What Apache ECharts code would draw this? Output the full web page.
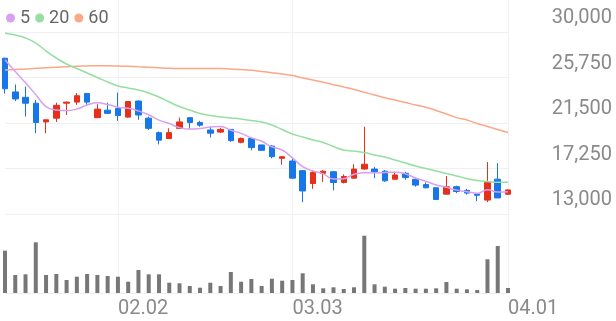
<!DOCTYPE html>
<html><head><meta charset="utf-8">
<script src="https://cdn.jsdelivr.net/npm/echarts@6/dist/echarts.min.js"></script>
<style>html,body{margin:0;padding:0;background:#fff}#c{width:616px;height:321px}</style>
</head><body><div id="c"></div>
<script>
const dates = ['01.16','01.19','01.20','01.21','01.22','01.23','01.26','01.27','01.28','01.29','01.30',
  '02.02','02.03','02.04','02.05','02.06','02.09','02.10','02.11','02.12','02.13','02.19','02.20',
  '02.23','02.24','02.25','02.26','02.27','03.03','03.04','03.05','03.06','03.09','03.10','03.11',
  '03.12','03.13','03.16','03.17','03.18','03.19','03.20','03.23','03.24','03.25','03.26','03.27',
  '03.30','03.31','04.01'];
const opens  = [27550,24400,23900,23350,21600,21950,23350,23450,24250,22000,22700,22850,22050,23550,21950,20600,20050,21000,22000,21550,20850,20650,20900,19700,20050,19450,19350,18200,17950,17050,15850,16800,16950,15950,16350,17200,17200,17000,16250,16800,16250,15750,15450,14850,15550,15200,14850,14300,16250,14850];
const closes = [24700,23750,23350,21550,21800,23150,23450,24050,23450,22800,22400,22200,23500,22250,21000,19900,20600,21600,21550,21300,20550,20900,19850,20050,19200,18950,18350,18350,16350,15150,16900,17000,15950,16500,17200,17650,16950,16100,16650,16400,15700,15450,14350,15550,15100,14950,14750,15950,14500,15250];
const lows   = [24250,23550,22100,20550,20550,21600,22250,23200,23200,21950,22350,21700,22000,21800,20850,19500,20000,20950,20950,21150,20150,20550,19750,19600,18950,18950,18200,17600,16300,14100,15350,16000,15200,15850,16350,17150,16350,16000,16200,16200,15550,15400,14350,14850,14950,14800,14200,14100,14500,14800];
const highs  = [27600,25100,24900,23650,21800,23400,23500,24300,24250,23250,23400,24350,23550,23600,22100,20700,21000,22000,22000,21700,21150,21050,20950,20150,20150,19450,19450,18400,18200,17100,17100,17100,17000,16700,17650,21150,17400,17100,16950,16950,16350,15950,15500,16550,15650,15350,14900,17850,17750,15300];
const volumes = [423000,180000,187000,507000,180000,190000,130000,163000,190000,180000,170000,163000,113000,230000,187000,187000,103000,97000,70000,53000,103000,70000,210000,113000,140000,70000,143000,123000,130000,197000,87000,47000,57000,40000,57000,573000,87000,63000,43000,50000,43000,43000,47000,110000,43000,37000,30000,337000,470000,50000];
const ma5  = [27400,26300,25250,24150,23030,22720,22660,22800,23180,23380,23230,22980,22870,22630,22270,21770,21450,21070,20930,20990,21120,21180,20830,20530,20110,19790,19280,18980,18240,17430,17020,16750,16270,16300,16710,16860,16850,16880,16910,16750,16360,16060,15710,15490,15230,15080,14940,15260,15050,15080];
const ma20 = [29880,29720,29440,28970,28220,27570,27010,26590,26170,25750,25330,24960,24770,24580,24300,23930,23460,23040,22710,22390,22200,22060,21970,21870,21730,21590,21310,20890,20470,20190,19910,19680,19300,18980,18880,18740,18510,18320,18040,17760,17480,17250,17010,16780,16550,16310,16130,16030,15960,15960];
const ma60 = [26450,26500,26540,26610,26660,26710,26760,26800,26830,26850,26840,26820,26790,26750,26710,26670,26610,26590,26590,26590,26590,26580,26540,26490,26420,26310,26200,26080,25940,25700,25520,25300,25080,24860,24630,24370,24120,23860,23650,23420,23180,22970,22670,22340,22000,21780,21450,21170,20890,20610];
const xTickLabels = ['02.02','03.03','04.01'];
const yTicks = [13000,17250,21500,25750,30000];

const UP = '#e5301c', DOWN = '#1776e8';
const candleData = opens.map((o, i) => [o, closes[i], lows[i], highs[i]]);
const showIdx = (i) => xTickLabels.indexOf(dates[i]) >= 0;
const chart = echarts.init(document.getElementById('c'), null, {renderer: 'canvas'});
const FONT = 'Roboto';
chart.setOption({
  animation: false,
  textStyle: {fontFamily: FONT},
  legend: {
    left: 1, top: 4, icon: 'circle', itemWidth: 9, itemHeight: 9, itemGap: 5,
    textStyle: {fontSize: 18, color: '#666', fontFamily: FONT},
    data: ['5', '20', '60']
  },
  grid: [
    {left: 5, right: 108, top: 32, bottom: 107},
    {left: 5, right: 108, top: 0, bottom: 28}
  ],
  xAxis: [
    {type: 'category', gridIndex: 0, data: dates, boundaryGap: false,
     axisLine: {show: false}, axisTick: {show: false}, axisLabel: {show: false}, splitLine: {show: false}},
    {type: 'category', gridIndex: 1, data: dates, boundaryGap: false,
     axisLine: {show: true, lineStyle: {color: '#eeeeee'}}, axisTick: {show: false},
     axisLabel: {show: true, interval: (i) => showIdx(i), align: 'left', margin: 6,
       fontSize: 20, color: '#8a8a8a', fontFamily: FONT},
     splitLine: {show: true, interval: (i) => showIdx(i), lineStyle: {color: '#f0f0f0', width: 1}}}
  ],
  yAxis: [
    {type: 'value', gridIndex: 0, position: 'right', min: yTicks[0], max: yTicks[yTicks.length - 1],
     interval: yTicks[1] - yTicks[0],
     axisLine: {show: false}, axisTick: {show: false},
     axisLabel: {align: 'right', margin: 104, verticalAlign: 'bottom', padding: [0, 0, 4, 0],
       fontSize: 20, color: '#8a8a8a', fontFamily: FONT,
       formatter: (v) => v.toLocaleString('en-US')},
     splitLine: {show: true, lineStyle: {color: '#f0f0f0', width: 1}}},
    {type: 'value', gridIndex: 1, min: 0, max: 2930000, show: false, splitLine: {show: false}}
  ],
  series: [
    {type: 'bar', name: 'vol', xAxisIndex: 1, yAxisIndex: 1, data: volumes, barWidth: 4,
     itemStyle: {color: '#777777'}},
    {type: 'line', name: '60', xAxisIndex: 0, yAxisIndex: 0, data: ma60, smooth: true, symbol: 'none',
     lineStyle: {color: '#fba888', width: 1.5}, itemStyle: {color: '#fba888'}},
    {type: 'line', name: '20', xAxisIndex: 0, yAxisIndex: 0, data: ma20, smooth: true, symbol: 'none',
     lineStyle: {color: '#95dfa1', width: 1.5}, itemStyle: {color: '#95dfa1'}},
    {type: 'line', name: '5', xAxisIndex: 0, yAxisIndex: 0, data: ma5, smooth: true, symbol: 'none',
     lineStyle: {color: '#d99ff0', width: 1.5}, itemStyle: {color: '#d99ff0'}},
    {type: 'candlestick', name: 'price', xAxisIndex: 0, yAxisIndex: 0, data: candleData, barWidth: 6,
     itemStyle: {color: UP, color0: DOWN, borderColor: UP, borderColor0: DOWN, borderWidth: 1}}
  ]
});
</script></body></html>
